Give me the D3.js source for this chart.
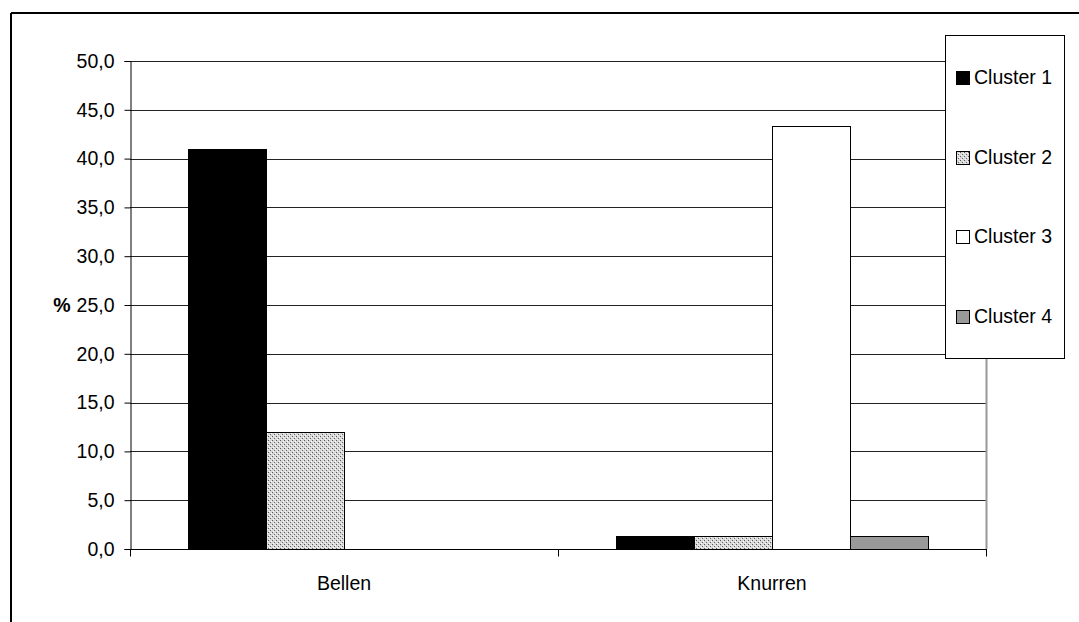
<!DOCTYPE html>
<html><head><meta charset="utf-8">
<script src="https://cdn.jsdelivr.net/npm/d3@7"></script>
<style>html,body{margin:0;padding:0;background:#fff;} svg{display:block;font-family:"Liberation Sans",Arial,sans-serif;}</style>
</head><body>
<script>
const categories = ["Bellen", "Knurren"];
const seriesNames = ["Cluster 1", "Cluster 2", "Cluster 3", "Cluster 4"];
const cluster1 = [41.0, 1.3];
const cluster2 = [12.0, 1.3];
const cluster3 = [0.0, 43.3];
const cluster4 = [0.0, 1.3];
const yTicks = [0, 5, 10, 15, 20, 25, 30, 35, 40, 45, 50];
const yTickLabels = ["0,0","5,0","10,0","15,0","20,0","25,0","30,0","35,0","40,0","45,0","50,0"];
const yTitle = "%";

(function () {
const seriesValues = [cluster1, cluster2, cluster3, cluster4];
const fills = ["#000", "url(#dots)", "#fff", "#999"];
const FS = 19.5;

const W = 1079, H = 622;
const svg = d3.select("body").append("svg").attr("width", W).attr("height", H);

const defs = svg.append("defs");
const pat = defs.append("pattern").attr("id","dots").attr("width",4).attr("height",4).attr("patternUnits","userSpaceOnUse");
pat.append("rect").attr("width",4).attr("height",4).attr("fill","#d8d8d8");
pat.append("rect").attr("x",0).attr("y",0).attr("width",1).attr("height",1).attr("fill","#555");
pat.append("rect").attr("x",2).attr("y",2).attr("width",1).attr("height",1).attr("fill","#666");
pat.append("rect").attr("x",1).attr("y",3).attr("width",1).attr("height",1).attr("fill","#fff");
pat.append("rect").attr("x",3).attr("y",1).attr("width",1).attr("height",1).attr("fill","#fff");

// outer border
svg.append("line").attr("x1",11).attr("x2",W).attr("y1",13).attr("y2",13).attr("stroke","#000").attr("stroke-width",2);
svg.append("line").attr("x1",11).attr("x2",11).attr("y1",13).attr("y2",H).attr("stroke","#000").attr("stroke-width",2);

const pLeft = 130, pRight = 986, pTop = 61, pBottom = 549;
const x = d3.scaleBand().domain(categories).range([pLeft, pRight]).padding(0);
const xs = d3.scaleBand().domain(seriesNames).range([0, x.bandwidth()]).paddingInner(0).paddingOuter(0.75);
const y = d3.scaleLinear().domain([0, 50]).range([pBottom, pTop]);

// gridlines
svg.append("g").selectAll("line").data(yTicks.slice(1)).join("line")
  .attr("x1", pLeft).attr("x2", pRight)
  .attr("y1", d => Math.round(y(d)) + 0.5).attr("y2", d => Math.round(y(d)) + 0.5)
  .attr("stroke", "#222").attr("stroke-width", 1);

// right plot border
svg.append("line").attr("x1", pRight + 0.5).attr("x2", pRight + 0.5).attr("y1", pTop).attr("y2", pBottom)
  .attr("stroke", "#999").attr("stroke-width", 2);

// bars
const g = svg.append("g");
seriesNames.forEach((s, si) => {
  g.append("g").selectAll("rect").data(categories.map((c, ci) => ({c, v: seriesValues[si][ci]})).filter(d => d.v > 0))
    .join("rect")
    .attr("x", d => Math.round(x(d.c) + xs(s)) + 0.5)
    .attr("y", d => Math.round(y(d.v)) + 0.5)
    .attr("width", Math.round(xs.bandwidth()))
    .attr("height", d => Math.round(y(0)) - Math.round(y(d.v)))
    .attr("fill", fills[si])
    .attr("stroke", "#000").attr("stroke-width", 1);
});

// y axis
const yAxis = d3.axisLeft(y).tickValues(yTicks).tickSize(6).tickPadding(10)
  .tickFormat((d, i) => yTickLabels[i]);
const ya = svg.append("g").attr("transform", `translate(${pLeft + 0.5},0)`).call(yAxis);
ya.select(".domain").attr("stroke", "#000");
ya.selectAll(".tick line").attr("stroke", "#000");
ya.selectAll("text").attr("font-size", FS).attr("fill", "#000").attr("font-family", "Liberation Sans, Arial, sans-serif");

// x axis
const xa = svg.append("g").attr("transform", `translate(0,${pBottom + 0.5})`);
xa.append("line").attr("x1", pLeft).attr("x2", pRight + 1).attr("y1", 0).attr("y2", 0).attr("stroke", "#000");
const bounds = [pLeft, ...categories.map(c => x(c) + x.bandwidth())];
xa.selectAll(".xt").data(bounds).join("line").attr("class","xt")
  .attr("x1", d => Math.round(d) + 0.5).attr("x2", d => Math.round(d) + 0.5)
  .attr("y1", 0).attr("y2", 7).attr("stroke", "#000");
xa.selectAll("text").data(categories).join("text")
  .attr("x", d => x(d) + x.bandwidth() / 2).attr("y", 40)
  .attr("text-anchor", "middle").attr("font-size", FS).attr("fill", "#000")
  .text(d => d);

// y title
svg.append("text").attr("x", 62).attr("y", y(25) + 6.5).attr("text-anchor", "middle")
  .attr("font-size", FS).attr("font-weight", "bold").text(yTitle);

// legend
const lg = svg.append("g");
lg.append("rect").attr("x", 945.5).attr("y", 35.5).attr("width", 119).attr("height", 323)
  .attr("fill", "#fff").attr("stroke", "#000").attr("stroke-width", 1);
const ly = d3.scalePoint().domain(seriesNames).range([77, 316]);
seriesNames.forEach((s, i) => {
  lg.append("rect").attr("x", 956.5).attr("y", Math.round(ly(s)) - 6 + 0.5).attr("width", 13).attr("height", 13)
    .attr("fill", fills[i]).attr("stroke", "#000").attr("stroke-width", 1);
  lg.append("text").attr("x", 974).attr("y", ly(s) + 7).attr("font-size", FS).attr("fill", "#000").text(s);
});
})();
</script>
</body></html>
